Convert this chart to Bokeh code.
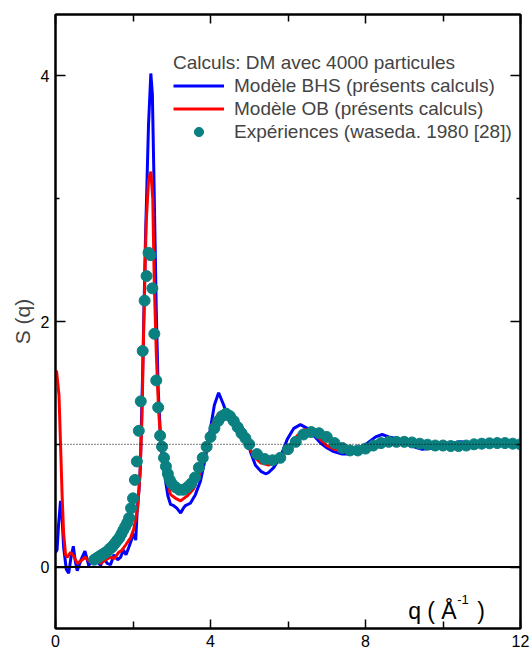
from bokeh.plotting import figure
from bokeh.models import (FixedTicker, Span, Legend, LegendItem, Label, Range1d,
                          LinearAxis, CustomJSTickFormatter)
from bokeh.embed import file_html
from bokeh.resources import INLINE

# ---------------- data ----------------
bhs_q = [0.00, 0.04, 0.08, 0.13, 0.17, 0.21, 0.28, 0.34, 0.40, 0.46, 0.51, 0.56,
         0.66, 0.76, 0.86, 0.95, 1.03, 1.16, 1.25, 1.33, 1.42, 1.51, 1.60, 1.68,
         1.75, 1.82, 1.89, 1.98, 2.03, 2.07, 2.11, 2.16, 2.19, 2.25, 2.32, 2.40,
         2.46, 2.50, 2.55, 2.60, 2.65, 2.72, 2.80, 2.84, 2.90, 2.97, 3.05, 3.13,
         3.23, 3.30, 3.35, 3.48, 3.61, 3.74, 3.87, 4.00, 4.10, 4.21, 4.34, 4.45,
         4.60, 4.77, 4.93, 5.03, 5.16, 5.30, 5.42, 5.50, 5.63, 5.81, 5.98, 6.15,
         6.32, 6.50, 6.67, 6.84, 7.01, 7.18, 7.40, 7.57, 7.74, 7.91, 8.09, 8.26,
         8.43, 8.60, 8.90, 9.25, 9.46, 9.75, 10.10, 10.45, 10.80, 11.20, 11.60, 12.00]
bhs_s = [0.12, 0.14, 0.35, 0.54, 0.40, 0.16, -0.02, -0.05, 0.08, 0.17, 0.05, -0.03,
         0.06, 0.13, 0.01, 0.08, 0.09, 0.01, 0.08, 0.03, 0.02, 0.10, 0.06, 0.08,
         0.14, 0.10, 0.16, 0.24, 0.27, 0.22, 0.47, 0.65, 0.82, 1.60, 2.65, 3.60,
         4.02, 3.85, 3.00, 2.10, 1.45, 1.00, 0.78, 0.70, 0.58, 0.51, 0.50, 0.48,
         0.44, 0.48, 0.50, 0.52, 0.59, 0.70, 0.89, 1.13, 1.32, 1.42, 1.32, 1.21,
         1.19, 1.16, 1.08, 0.94, 0.83, 0.78, 0.76, 0.77, 0.81, 0.90, 1.04, 1.13,
         1.16, 1.13, 1.07, 1.01, 0.97, 0.94, 0.92, 0.92, 0.93, 0.97, 1.02, 1.06,
         1.08, 1.06, 1.04, 0.98, 0.96, 0.97, 1.00, 1.02, 1.01, 1.00, 0.995, 1.00]

ob_q = [0.00, 0.03, 0.09, 0.13, 0.17, 0.21, 0.26, 0.30, 0.39, 0.47, 0.56, 0.69,
        0.77, 0.86, 0.95, 1.05, 1.16, 1.30, 1.42, 1.52, 1.63, 1.72, 1.81, 1.94,
        2.02, 2.12, 2.18, 2.23, 2.28, 2.34, 2.40, 2.46, 2.51, 2.55, 2.60, 2.66,
        2.72, 2.80, 2.84, 2.97, 3.10, 3.23, 3.40, 3.57, 3.74, 3.91, 4.04, 4.21,
        4.36, 4.60, 4.77, 4.95, 5.12, 5.29, 5.50, 5.81, 6.06, 6.24, 6.42, 6.60,
        6.80, 7.00, 7.20, 7.44, 7.78, 8.12, 8.46, 8.70, 9.00, 9.40, 9.80, 10.20,
        10.60, 11.00, 11.50, 12.00]
ob_s = [1.60, 1.59, 1.40, 1.00, 0.59, 0.27, 0.10, 0.08, 0.12, 0.09, 0.03, 0.06,
        0.08, 0.05, 0.04, 0.07, 0.03, 0.06, 0.08, 0.07, 0.12, 0.14, 0.18, 0.24,
        0.31, 0.48, 0.75, 1.20, 2.00, 2.80, 3.15, 3.22, 3.00, 2.30, 1.75, 1.28,
        1.00, 0.82, 0.75, 0.59, 0.56, 0.54, 0.58, 0.64, 0.78, 1.00, 1.16, 1.25,
        1.27, 1.19, 1.12, 1.01, 0.90, 0.85, 0.83, 0.88, 1.00, 1.07, 1.12, 1.11,
        1.05, 0.99, 0.96, 0.95, 0.94, 0.99, 1.04, 1.03, 1.02, 0.98, 0.98, 1.00,
        1.01, 1.005, 1.00, 1.00]

exp_q = [1.00, 1.05, 1.10, 1.15, 1.20, 1.25, 1.30, 1.35, 1.40, 1.45, 1.50, 1.55,
         1.60, 1.65, 1.70, 1.75, 1.80, 1.85, 1.90, 1.95, 2.00, 2.05, 2.10, 2.15,
         2.20, 2.25, 2.30, 2.35, 2.40, 2.45, 2.50, 2.55, 2.60, 2.65, 2.70, 2.75,
         2.80, 2.85, 2.90, 2.95, 3.00, 3.10, 3.20, 3.30, 3.40, 3.50, 3.60, 3.70,
         3.80, 3.90, 4.00, 4.10, 4.20, 4.30, 4.40, 4.50, 4.60, 4.70, 4.80, 4.90,
         5.00, 5.20, 5.40, 5.60, 5.80, 6.00, 6.20, 6.40, 6.60, 6.80, 7.00, 7.20,
         7.40, 7.60, 7.80, 8.00, 8.20, 8.40, 8.60, 8.80, 9.00, 9.20, 9.40, 9.60,
         9.80, 10.00, 10.20, 10.40, 10.60, 10.80, 11.00, 11.20, 11.40, 11.60, 11.80, 12.00]
exp_s = [0.06, 0.07, 0.08, 0.09, 0.10, 0.11, 0.12, 0.13, 0.15, 0.16, 0.18, 0.20,
         0.22, 0.24, 0.27, 0.30, 0.33, 0.36, 0.40, 0.48, 0.56, 0.71, 0.86, 1.11,
         1.35, 1.76, 2.17, 2.37, 2.56, 2.54, 2.27, 1.90, 1.52, 1.30, 1.07, 0.98,
         0.89, 0.82, 0.76, 0.71, 0.68, 0.65, 0.63, 0.63, 0.65, 0.68, 0.73, 0.81,
         0.89, 0.98, 1.06, 1.13, 1.19, 1.23, 1.25, 1.23, 1.19, 1.14, 1.09, 1.05,
         1.00, 0.92, 0.88, 0.87, 0.89, 0.96, 1.02, 1.08, 1.10, 1.09, 1.06, 1.01,
         0.97, 0.95, 0.95, 0.965, 0.99, 1.01, 1.02, 1.02, 1.02, 1.015, 1.005, 0.997,
         0.99, 0.99, 0.986, 0.986, 0.99, 1.00, 1.005, 1.008, 1.01, 1.01, 1.005, 1.00]

x_major = [0, 4, 8, 12]
x_minor = [2, 6, 10]
y_major = [0, 2, 4]
y_minor = [1, 3]
x_lim = (0, 12)
y_lim = (-0.5, 4.5)

legend_title = "Calculs: DM avec 4000 particules"
lab_bhs = "Modèle BHS (présents calculs)"
lab_ob = "Modèle OB (présents calculs)"
lab_exp = "Expériences (waseda. 1980 [28])"

FONT = "Liberation Sans"

# ---------------- figure ----------------
p = figure(width=530, height=650, output_backend="svg", toolbar_location=None,
           x_range=Range1d(*x_lim), y_range=Range1d(*y_lim),
           min_border_left=55, min_border_top=14, min_border_right=10,
           min_border_bottom=22)
p.xgrid.visible = False
p.ygrid.visible = False
p.outline_line_color = "black"
p.outline_line_width = 2
p.background_fill_color = "white"
p.border_fill_color = "white"


def style_axis(ax, major, minor, maj_len, min_len):
    ax.ticker = FixedTicker(ticks=major, minor_ticks=minor)
    ax.axis_line_color = "black"
    ax.axis_line_width = 2
    ax.major_tick_line_color = "black"
    ax.minor_tick_line_color = "black"
    ax.major_tick_line_width = 1.5
    ax.minor_tick_line_width = 1.5
    ax.major_tick_in = maj_len
    ax.major_tick_out = 0
    ax.minor_tick_in = min_len
    ax.minor_tick_out = 0
    ax.major_label_text_font = FONT
    ax.major_label_text_color = "black"
    ax.major_label_text_font_size = "16px"
    ax.major_label_standoff = 6


xb = p.xaxis[0]
yl = p.yaxis[0]
style_axis(xb, x_major, x_minor, 9, 7)
style_axis(yl, y_major, y_minor, 10, 4)
yl.axis_label = "S (q)"
yl.axis_label_text_font = FONT
yl.axis_label_text_font_size = "21px"
yl.axis_label_text_font_style = "normal"
yl.axis_label_standoff = 4

# mirrored ticks on the top and right frame edges (no labels)
xt = LinearAxis(formatter=CustomJSTickFormatter(code="return ''"))
style_axis(xt, x_major, x_minor, 9, 7)
xt.major_label_standoff = 0
p.add_layout(xt, "above")
yr = LinearAxis(formatter=CustomJSTickFormatter(code="return ''"))
style_axis(yr, y_major, y_minor, 10, 4)
yr.major_label_standoff = 0
p.add_layout(yr, "right")

# reference lines
p.add_layout(Span(location=1, dimension="width", line_color="black",
                  line_width=1, line_dash="1 2"))
p.add_layout(Span(location=0, dimension="width", line_color="black",
                  line_width=2))

r_bhs = p.line(bhs_q, bhs_s, line_color="#0000ff", line_width=3)
r_ob = p.line(ob_q, ob_s, line_color="#ff0000", line_width=3)
r_exp = p.scatter(exp_q, exp_s, size=11, fill_color="#0b8080",
                  line_color="#0b8080")

legend = Legend(items=[LegendItem(label=lab_bhs, renderers=[r_bhs]),
                       LegendItem(label=lab_ob, renderers=[r_ob]),
                       LegendItem(label=lab_exp, renderers=[r_exp])],
                title=legend_title, location=(118, 485))
legend.title_text_font = FONT
legend.title_text_font_size = "19px"
legend.title_text_font_style = "normal"
legend.title_standoff = 0
legend.label_text_font = FONT
legend.label_text_font_size = "19px"
legend.glyph_width = 51
legend.glyph_height = 23
legend.label_height = 23
legend.label_standoff = 10
legend.spacing = 0
legend.padding = 5
legend.margin = 0
legend.background_fill_alpha = 0
legend.border_line_color = None
p.add_layout(legend, "center")

# x-axis title placed inside the frame
for txt, dx, dy, fs in [("q ( Å", 0, 0, "23px"),
                        ("-1", 49, 12, "13px"),
                        (")", 69, 0, "23px")]:
    p.add_layout(Label(x=9.1, y=-0.36, x_offset=dx, y_offset=dy, text=txt,
                       text_font=FONT, text_font_size=fs, text_color="black",
                       text_baseline="alphabetic"))

open("out.html", "w").write(file_html(p, INLINE))
